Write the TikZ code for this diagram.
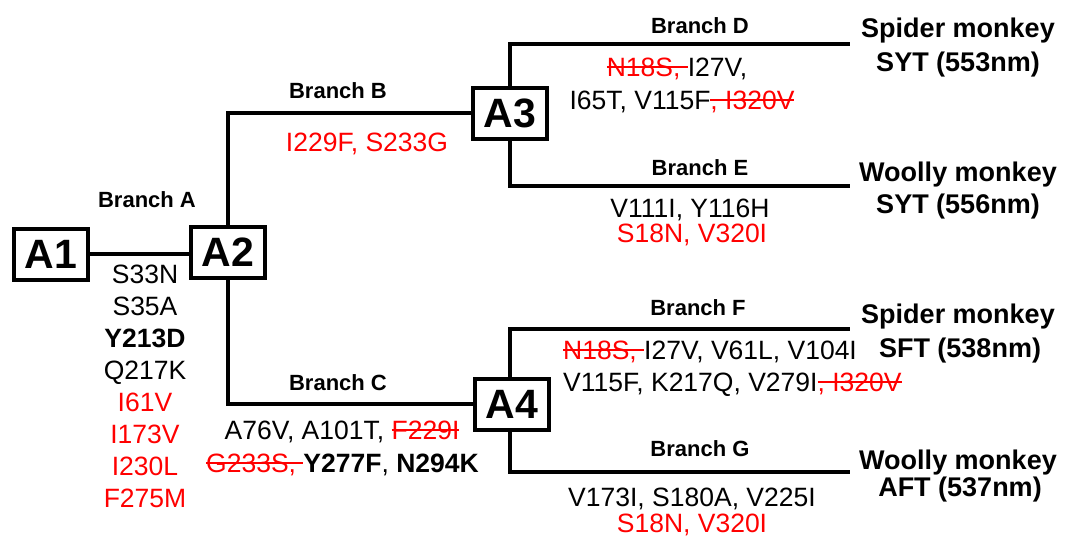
\documentclass[tikz,border=0pt]{standalone}
\usepackage{fontspec}
\setmainfont{Liberation Sans}
\newsavebox\strkbox
\newcommand\xstrike[1]{\sbox\strkbox{#1}\rlap{\rule[0.31em]{\wd\strkbox}{0.075em}}\usebox\strkbox}
\newcommand\rd[1]{{\color{red}#1}}
\begin{document}
\begin{tikzpicture}[x=1pt,y=-1pt,
  mut/.style={font=\fontsize{26.5}{31.9}\selectfont, inner sep=0pt, anchor=base},
  brlab/.style={font=\bfseries\fontsize{22}{26}\selectfont, inner sep=0pt, anchor=base},
  sp/.style={font=\bfseries\fontsize{27}{32}\selectfont, inner sep=0pt, anchor=base},
  anc/.style={draw, line width=4pt, minimum width=74pt, minimum height=51pt, inner sep=0pt,
    font=\bfseries\fontsize{41}{41}\selectfont},
  edge/.style={line width=4pt}]
\useasboundingbox (0,0) rectangle (1067,538);
% ancestor boxes
\node[anc] (A1) at (51,254) {A1};
\node[anc] (A2) at (228,252) {A2};
\node[anc] (A3) at (510,113) {A3};
\node[anc] (A4) at (512,404) {A4};
% free ends
\coordinate (eD) at (850,44);
\coordinate (eE) at (850,186);
\coordinate (eF) at (850,329);
\coordinate (eG) at (850,472);
% connectors
\draw[edge] (A1.east) -- (A1.east -| A2.west);
\draw[edge] (A2.north) |- (A3.west);
\draw[edge] (A2.south) |- (A4.west);
\draw[edge] (A3.north) |- (eD);
\draw[edge] (A3.south) |- (eE);
\draw[edge] ([xshift=-2pt]A4.north) |- (eF);
\draw[edge] ([xshift=-2pt]A4.south) |- (eG);
% branch labels
\node[brlab] (bA) at (147,207) {Branch A};
\node[brlab] (bB) at (338,98) {Branch B};
\node[brlab] (bC) at (338,390) {Branch C};
\node[brlab] (bD) at (700,33) {Branch D};
\node[brlab] (bE) at (700,175) {Branch E};
\node[brlab] (bF) at (698,315) {Branch F};
\node[brlab] (bG) at (700,456) {Branch G};
% mutations
\node[mut, anchor=center, align=center] (mA) at (145,386.5) {S33N\\S35A\\\textbf{Y213D}\\Q217K\\\rd{I61V}\\\rd{I173V}\\\rd{I230L}\\\rd{F275M}};
\node[mut] (mB) at (367,151) {\rd{I229F, S233G}};
\node[mut] (mC1) at (342,439.3) {A76V, A101T, \rd{\xstrike{F229I}}};
\node[mut] (mC2) at (342.5,472.3) {\rd{\xstrike{G233S, }}\textbf{Y277F}, \textbf{N294K}};
\node[mut] (mD1) at (677,76.3) {\rd{\xstrike{N18S, }}I27V,};
\node[mut] (mD2) at (682,109.3) {I65T, V115F\rd{\xstrike{, I320V}}};
\node[mut] (mE1) at (690,217.8) {V111I, Y116H};
\node[mut] (mE2) at (692,242.5) {\rd{S18N, V320I}};
\node[mut, anchor=base west] (mF1) at (563,359.3) {\rd{\xstrike{N18S, }}I27V, V61L, V104I};
\node[mut, anchor=base west] (mF2) at (563,391.3) {V115F, K217Q, V279I\rd{\xstrike{, I320V}}};
\node[mut] (mG1) at (692,506.3) {V173I, S180A, V225I};
\node[mut] (mG2) at (692,532.3) {\rd{S18N, V320I}};
% species
\node[sp] (s1) at (958,37.1) {Spider monkey};
\node[sp] (s1b) at (958,71.4) {SYT (553nm)};
\node[sp] (s2) at (958,181.2) {Woolly monkey};
\node[sp] (s2b) at (958,213.7) {SYT (556nm)};
\node[sp] (s3) at (958,323.7) {Spider monkey};
\node[sp] (s3b) at (960,357.7) {SFT (538nm)};
\node[sp] (s4) at (958,469.7) {Woolly monkey};
\node[sp] (s4b) at (960,496.7) {AFT (537nm)};
\end{tikzpicture}
\end{document}
